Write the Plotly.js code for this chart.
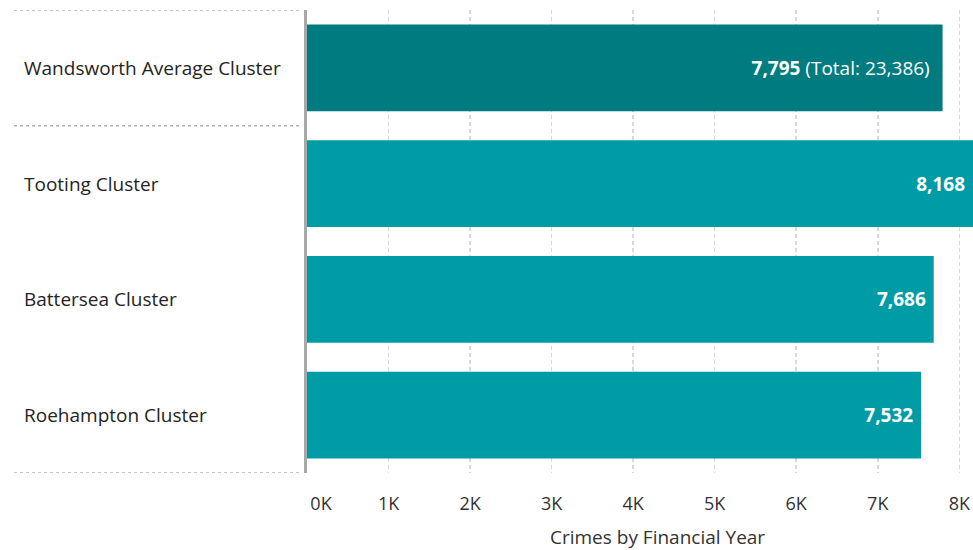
<!DOCTYPE html>
<html>
<head>
<meta charset="utf-8">
<script src="https://cdn.plot.ly/plotly-3.0.1.min.js"></script>
<style>
  html, body { margin: 0; padding: 0; background: #fff; }
  #chart { width: 973px; height: 550px; }
</style>
</head>
<body>
<div id="chart"></div>
<script>
// ---- data ----
const categories = ["Wandsworth Average Cluster", "Tooting Cluster", "Battersea Cluster", "Roehampton Cluster"];
const crimes = [7795, 8168, 7686, 7532];
const averageTotal = 23386;
const tickValues = [0, 1000, 2000, 3000, 4000, 5000, 6000, 7000, 8000];
const tickLabels = ["0K", "1K", "2K", "3K", "4K", "5K", "6K", "7K", "8K"];
const xAxisTitle = "Crimes by Financial Year";

// ---- styles ----
const barColors = ["#007C80", "#009CA6", "#009CA6", "#009CA6"];
const FONT = "'Segoe UI', 'Open Sans', 'Noto Sans', sans-serif";
const fmt = v => v.toLocaleString("en-US");

const labelText = crimes.map((v, i) =>
  i === 0 ? "<b>" + fmt(v) + "</b> (Total: " + fmt(averageTotal) + ")\u00a0\u00a0"
          : "<b>" + fmt(v) + "</b>\u00a0");

const trace = {
  type: "bar",
  orientation: "h",
  y: categories,
  x: crimes,
  width: 0.75,
  marker: { color: barColors, line: { width: 0 } },
  text: labelText,
  texttemplate: "%{text}",
  textposition: "inside",
  insidetextanchor: "end",
  textangle: 0,
  insidetextfont: { family: FONT, size: 19, color: "#ffffff" },
  hoverinfo: "skip",
  cliponaxis: true
};

const annotations = categories.map(c => ({
  xref: "paper", yref: "y",
  x: (22 - 307) / 666, y: c,
  xanchor: "left", yanchor: "middle",
  text: c, showarrow: false,
  font: { family: FONT, size: 19, color: "#252423" }
}));
annotations.push({
  xref: "paper", yref: "paper",
  x: (657.5 - 307) / 666, y: (473 - 537) / 463,
  xanchor: "center", yanchor: "middle",
  text: xAxisTitle, showarrow: false,
  font: { family: FONT, size: 19, color: "#333333" }
});

const sepColor = "#b3b3b3";
const sepX0 = (14 - 307) / 666, sepX1 = (302 - 307) / 666;
const shapes = [-0.5, 0.5, 3.5].map(yv => ({
  type: "line", xref: "paper", yref: "y",
  x0: sepX0, x1: sepX1, y0: yv, y1: yv,
  line: { color: sepColor, width: 1.5, dash: "dot" }
}));

const layout = {
  width: 973, height: 550,
  margin: { l: 307, r: 0, t: 10, b: 77 },
  paper_bgcolor: "#ffffff", plot_bgcolor: "#ffffff",
  showlegend: false,
  font: { family: FONT, color: "#333333" },
  xaxis: {
    range: [0, 8168],
    tickvals: tickValues,
    ticktext: tickLabels.map((t, i) => i === 0 ? "\u00a0\u00a0\u00a0\u00a0\u00a0\u00a0" + t : t),
    tickfont: { family: FONT, size: 18, color: "#333333" },
    showgrid: true, gridcolor: "#d9d9d9", gridwidth: 1.5, griddash: "4px,3px",
    zeroline: false, showline: false, ticks: "",
    ticklabelstandoff: 18,
    fixedrange: true
  },
  yaxis: {
    type: "category",
    range: [3.5, -0.5],
    showticklabels: false,
    showgrid: false, zeroline: false,
    showline: true, linecolor: "#a8a8a8", linewidth: 3,
    ticks: "", fixedrange: true
  },
  annotations: annotations,
  shapes: shapes,
  bargap: 0.25
};

Plotly.newPlot("chart", [trace], layout, { displayModeBar: false, staticPlot: true });
</script>
</body>
</html>
